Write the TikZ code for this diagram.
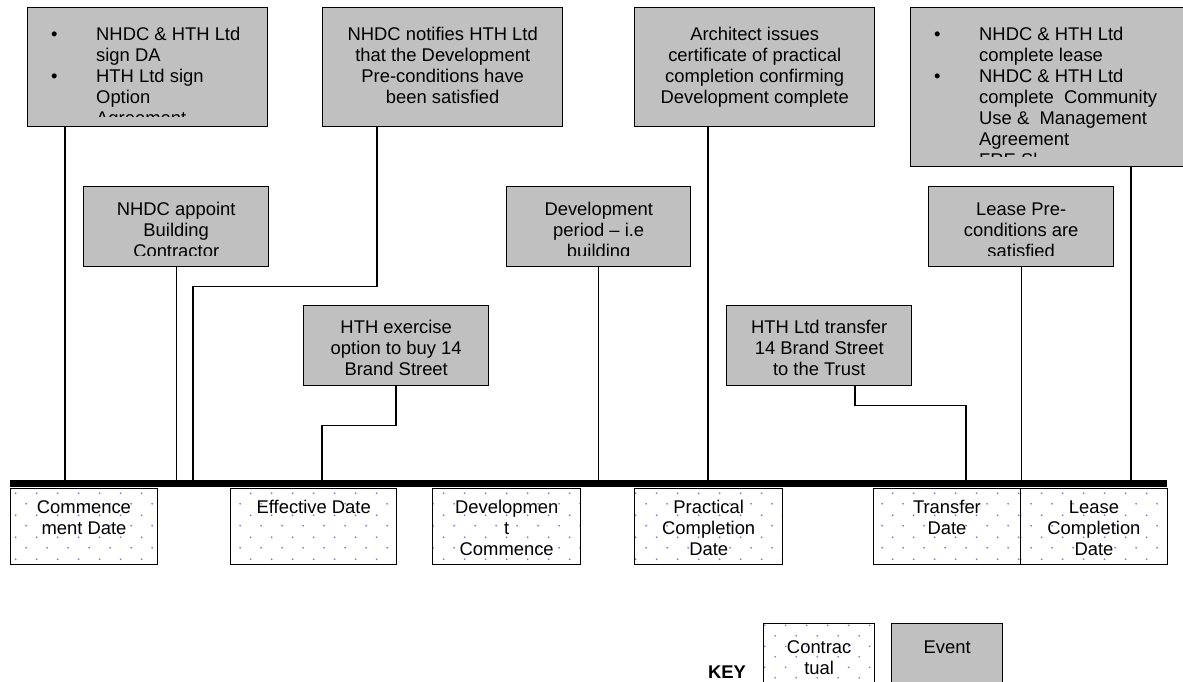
\documentclass[tikz,border=0pt]{standalone}
\usepackage{fontspec}
\setmainfont{Liberation Sans}
\usetikzlibrary{patterns,calc}

\definecolor{evgray}{RGB}{192,192,192}
\definecolor{dotblue}{RGB}{125,125,200}

\pgfdeclarepatternformonly{worddots}{\pgfpointorigin}{\pgfpoint{21.4pt}{21.4pt}}{\pgfpoint{21.4pt}{21.4pt}}{%
  \pgfpathcircle{\pgfpoint{5.3pt}{5.3pt}}{1pt}%
  \pgfpathcircle{\pgfpoint{16pt}{16pt}}{1pt}%
  \pgfusepath{fill}}

\newcommand{\evfont}{\fontsize{18.4}{21}\selectfont}
\newcommand{\ctxt}[1]{\begin{tabular}{@{}c@{}}#1\end{tabular}}
\newcommand{\btxt}[1]{\begin{tabular}{@{}p{45pt}@{}l@{}}#1\end{tabular}}

\tikzset{
  event/.style={draw, line width=1.4pt, fill=evgray, anchor=north west, inner sep=0pt},
  contract/.style={draw, line width=1.4pt, pattern=worddots, pattern color=dotblue, anchor=north west, inner sep=0pt},
  datethin/.style={contract, line width=0.9pt},
  boxtext/.style={font=\evfont, inner sep=0pt, anchor=north},
  conn/.style={line width=1.4pt},
  timeline/.style={line width=7pt}
}

\begin{document}
\begin{tikzpicture}[x=1pt,y=-1pt]
  \useasboundingbox (0,0) rectangle (1183,682);

  % events
  \node[event, minimum width=240pt, minimum height=119pt] (sign) at (27,7) {};
  \node[event, minimum width=240pt, minimum height=119pt] (notify) at (322,7) {};
  \node[event, minimum width=240pt, minimum height=119pt] (architect) at (634,7) {};
  \node[event, minimum width=290pt, minimum height=159pt] (complete) at (910,7) {};
  \node[event, minimum width=185pt, minimum height=80pt] (appoint) at (83,186) {};
  \node[event, minimum width=184pt, minimum height=80pt] (period) at (506,186) {};
  \node[event, minimum width=185pt, minimum height=80pt] (leasepre) at (928,186) {};
  \node[event, minimum width=185pt, minimum height=80pt] (exercise) at (303,305) {};
  \node[event, minimum width=185pt, minimum height=80pt] (transfer) at (726,305) {};

  \begin{scope}
    \clip (sign.north west) rectangle ([yshift=11pt]sign.south east);
    \node[boxtext, anchor=north west] (signtxt) at ([xshift=24pt,yshift=-18.3pt]sign.north west)
      {\btxt{\textbullet & NHDC \& HTH Ltd\\ & sign DA\\ \textbullet & HTH Ltd sign\\ & Option\\ & Agreement}};
  \end{scope}
  \begin{scope}
    \clip (notify.north west) rectangle ([yshift=11pt]notify.south east);
    \node[boxtext] (notifytxt) at ([yshift=-18.3pt]notify.north)
      {\ctxt{NHDC notifies HTH Ltd\\ that the Development\\ Pre-conditions have\\ been satisfied}};
  \end{scope}
  \begin{scope}
    \clip (architect.north west) rectangle ([yshift=11pt]architect.south east);
    \node[boxtext] (architecttxt) at ([yshift=-18.3pt]architect.north)
      {\ctxt{Architect issues\\ certificate of practical\\ completion confirming\\ Development complete}};
  \end{scope}
  \begin{scope}
    \clip (complete.north west) rectangle ([yshift=11pt]complete.south east);
    \node[boxtext, anchor=north west] (completetxt) at ([xshift=24pt,yshift=-18.3pt]complete.north west)
      {\btxt{\textbullet & NHDC \& HTH Ltd\\ & complete lease\\ \textbullet & NHDC \& HTH Ltd\\
        & complete\ \ Community\\ & Use \&\ \ Management\\ & Agreement\\ & FRE Sl}};
  \end{scope}
  \begin{scope}
    \clip (appoint.north west) rectangle ([yshift=12pt]appoint.south east);
    \node[boxtext] (appointtxt) at ([yshift=-14.3pt]appoint.north)
      {\ctxt{NHDC appoint\\ Building\\ Contractor}};
  \end{scope}
  \begin{scope}
    \clip (period.north west) rectangle ([yshift=12pt]period.south east);
    \node[boxtext] (periodtxt) at ([yshift=-14.3pt]period.north)
      {\ctxt{Development\\ period -- i.e\\ building}};
  \end{scope}
  \begin{scope}
    \clip (leasepre.north west) rectangle ([yshift=12pt]leasepre.south east);
    \node[boxtext] (leasepretxt) at ([yshift=-14.3pt]leasepre.north)
      {\ctxt{Lease Pre-\\ conditions are\\ satisfied}};
  \end{scope}
  \begin{scope}
    \clip (exercise.north west) rectangle ([yshift=10pt]exercise.south east);
    \node[boxtext] (exercisetxt) at ([yshift=-13.3pt]exercise.north)
      {\ctxt{HTH exercise\\ option to buy 14\\ Brand Street}};
  \end{scope}
  \begin{scope}
    \clip (transfer.north west) rectangle ([yshift=10pt]transfer.south east);
    \node[boxtext] (transfertxt) at ([yshift=-13.3pt]transfer.north)
      {\ctxt{HTH Ltd transfer\\ 14 Brand Street\\ to the Trust}};
  \end{scope}

  % timeline
  \coordinate (tlstart) at (10,483.5);
  \coordinate (tlend) at (1167,483.5);
  \coordinate (tsign) at (65,483.5);
  \coordinate (tnotify) at (193,483.5);
  \coordinate (texercise) at (322,483.5);
  \coordinate (tarchitect) at (708,483.5);
  \coordinate (ttransfer) at (966,483.5);
  \coordinate (tcomplete) at (1131,483.5);

  \draw[conn] (sign.south -| tsign) -- (tsign);
  \draw[conn] (appoint.south) -- (appoint.south |- tlstart);
  \draw[conn] ([xshift=55pt]notify.south west) -- ++(0,159) -| (tnotify);
  \draw[conn] ([xshift=93pt]exercise.south west) -- ++(0,39) -| (texercise);
  \draw[conn] (period.south) -- (period.south |- tlstart);
  \draw[conn] (architect.south -| tarchitect) -- (tarchitect);
  \draw[conn] ([xshift=129pt]transfer.south west) -- ++(0,19) -| (ttransfer);
  \draw[conn] (leasepre.south) -- (leasepre.south |- tlstart);
  \draw[conn] (complete.south -| tcomplete) -- (tcomplete);
  \draw[timeline] (tlstart) -- (tlend);

  % contractual dates
  \node[contract, minimum width=147.5pt, minimum height=76pt] (commence) at (9.5,488) {};
  \node[contract, minimum width=166pt, minimum height=76pt] (effective) at (230,488) {};
  \node[contract, minimum width=148pt, minimum height=76pt] (devstart) at (432,488) {};
  \node[contract, minimum width=148pt, minimum height=76pt] (practical) at (634,488) {};
  \node[datethin, minimum width=147pt, minimum height=76pt] (transdate) at (873,488) {};
  \node[datethin, minimum width=147pt, minimum height=76pt] (leasedate) at (1020,488) {};

  \begin{scope}
    \clip (commence.north west) rectangle ([yshift=9pt]commence.south east);
    \node[boxtext] (commencetxt) at ([yshift=-10.9pt]commence.north) {\ctxt{Commence\\ ment Date}};
  \end{scope}
  \begin{scope}
    \clip (effective.north west) rectangle ([yshift=9pt]effective.south east);
    \node[boxtext] (effectivetxt) at ([yshift=-10.9pt]effective.north) {\ctxt{Effective Date}};
  \end{scope}
  \begin{scope}
    \clip (devstart.north west) rectangle ([yshift=9pt]devstart.south east);
    \node[boxtext] (devstarttxt) at ([yshift=-10.9pt]devstart.north) {\ctxt{Developmen\\ t\\ Commence}};
  \end{scope}
  \begin{scope}
    \clip (practical.north west) rectangle ([yshift=9pt]practical.south east);
    \node[boxtext] (practicaltxt) at ([yshift=-10.9pt]practical.north) {\ctxt{Practical\\ Completion\\ Date}};
  \end{scope}
  \begin{scope}
    \clip (transdate.north west) rectangle ([yshift=9pt]transdate.south east);
    \node[boxtext] (transdatetxt) at ([yshift=-10.9pt]transdate.north) {\ctxt{Transfer\\ Date}};
  \end{scope}
  \begin{scope}
    \clip (leasedate.north west) rectangle ([yshift=9pt]leasedate.south east);
    \node[boxtext] (leasedatetxt) at ([yshift=-10.9pt]leasedate.north) {\ctxt{Lease\\ Completion\\ Date}};
  \end{scope}

  % key
  \node[font=\bfseries\evfont, inner sep=0pt, anchor=base] (keylbl) at (727,678) {KEY};
  \node[contract, minimum width=111pt, minimum height=80pt] (keycontract) at (763,623) {};
  \node[event, minimum width=111pt, minimum height=80pt] (keyevent) at (891,623) {};
  \node[boxtext] (keycontracttxt) at ([yshift=-15.9pt]keycontract.north) {\ctxt{Contrac\\ tual}};
  \node[boxtext] (keyeventtxt) at ([yshift=-15.9pt]keyevent.north) {\ctxt{Event}};
\end{tikzpicture}
\end{document}
